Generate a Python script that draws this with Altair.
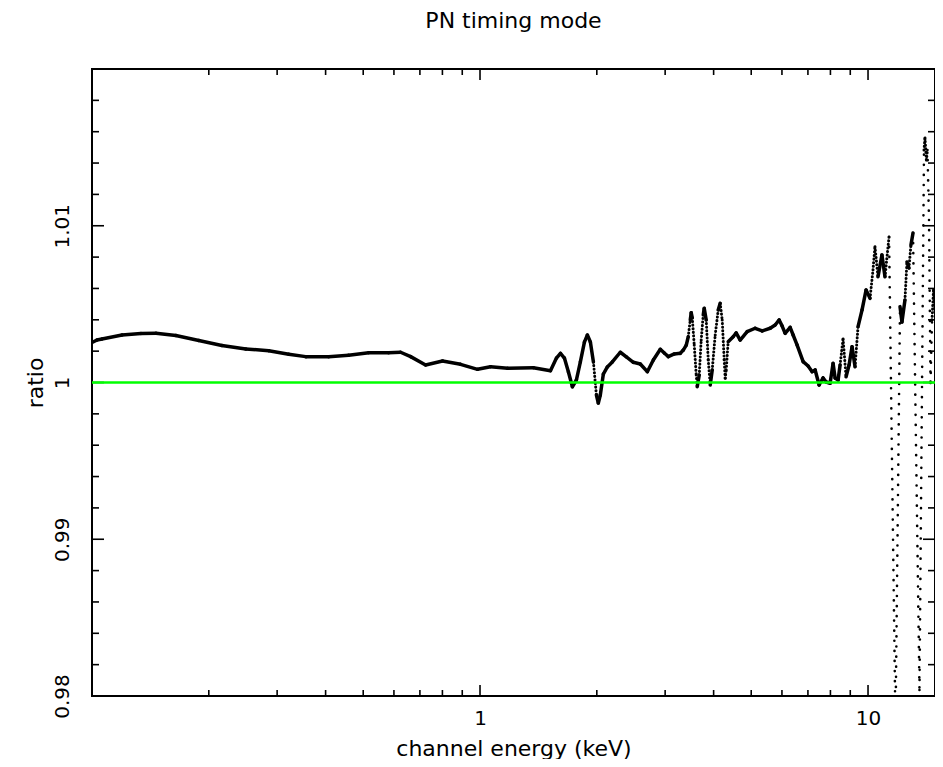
import altair as alt
import numpy as np
import pandas as pd

# ---- data ----
energy_kev = [
    0.1006, 0.1030, 0.1061, 0.1195, 0.1337, 0.1462, 0.1645, 0.1885, 0.2161, 0.2490,
    0.2855, 0.3214, 0.3554, 0.4074, 0.4586, 0.5164, 0.5813, 0.6241, 0.6626, 0.7239,
    0.8006, 0.8909, 0.9853, 1.0642, 1.1774, 1.373, 1.519, 1.574, 1.612, 1.650,
    1.690, 1.730, 1.772, 1.814, 1.858, 1.891, 1.925, 1.960, 1.995, 2.018,
    2.042, 2.079, 2.129, 2.193, 2.299, 2.383, 2.484, 2.589, 2.699, 2.797,
    2.915, 2.985, 3.057, 3.168, 3.282, 3.341, 3.401, 3.441, 3.482, 3.502,
    3.524, 3.565, 3.608, 3.629, 3.673, 3.716, 3.761, 3.783, 3.828, 3.874,
    3.920, 3.967, 4.038, 4.111, 4.159, 4.209, 4.259, 4.284, 4.310, 4.361,
    4.492, 4.573, 4.683, 4.881, 5.118, 5.336, 5.594, 5.763, 5.902, 6.007,
    6.115, 6.299, 6.412, 6.566, 6.804, 7.009, 7.177, 7.306, 7.481, 7.660,
    7.798, 7.985, 8.128, 8.225, 8.373, 8.472, 8.623, 8.778, 8.936, 9.096,
    9.259, 9.425, 9.652, 9.884, 10.12, 10.30, 10.42, 10.61, 10.86, 11.06,
    11.33, 11.77, 12.09, 12.23, 12.45, 12.60, 12.75, 12.90, 13.06, 13.57,
    13.94, 14.02, 14.14, 14.23, 14.36, 14.49, 14.62, 14.75, 14.88,
]
ratio = [
    1.00258, 1.00271, 1.00278, 1.00303, 1.00313, 1.00314, 1.00300, 1.00268, 1.00236, 1.00214,
    1.00203, 1.00180, 1.00165, 1.00165, 1.00174, 1.00190, 1.00190, 1.00193, 1.00165, 1.00112,
    1.00137, 1.00116, 1.00084, 1.00101, 1.00091, 1.00094, 1.00075, 1.00156, 1.00186, 1.00156,
    1.00067, 0.99973, 1.00016, 1.00131, 1.00258, 1.00303, 1.00258, 1.00131, 0.99920, 0.99869,
    0.99920, 1.00054, 1.00099, 1.00131, 1.00193, 1.00163, 1.00129, 1.00118, 1.00069, 1.00144,
    1.00212, 1.00188, 1.00165, 1.00182, 1.00186, 1.00207, 1.00239, 1.00292, 1.00399, 1.00445,
    1.00412, 1.00239, 1.00048, 0.99973, 1.00048, 1.00271, 1.00431, 1.00473, 1.00399, 1.00144,
    0.99984, 1.00080, 1.00303, 1.00463, 1.00505, 1.00399, 1.00144, 1.00027, 1.00080, 1.00260,
    1.00292, 1.00316, 1.00271, 1.00324, 1.00346, 1.00329, 1.00346, 1.00367, 1.00399, 1.00360,
    1.00314, 1.00352, 1.00303, 1.00239, 1.00133, 1.00105, 1.00069, 1.00080, 0.99984, 1.00029,
    1.00003, 0.99995, 1.00122, 1.00029, 1.00016, 1.00112, 1.00278, 1.00037, 1.00112, 1.00228,
    1.00101, 1.00356, 1.00463, 1.00590, 1.00537, 1.00718, 1.00866, 1.00675, 1.00813, 1.00675,
    1.00930, 0.97800, 1.00484, 1.00386, 1.00526, 1.00769, 1.00730, 1.00877, 1.00954, 0.98038,
    1.01483, 1.01560, 1.01419, 1.01483, 1.01037, 0.99997, 1.00399, 1.00590, 1.00443,
]
x_major_ticks = [1, 10]
x_minor_ticks = [0.2, 0.3, 0.4, 0.5, 0.6, 0.7, 0.8, 0.9, 2, 3, 4, 5, 6, 7, 8, 9]
y_major_ticks = [0.98, 0.99, 1.00, 1.01, 1.02]
y_minor_ticks = [0.982, 0.984, 0.986, 0.988, 0.992, 0.994, 0.996, 0.998,
                 1.002, 1.004, 1.006, 1.008, 1.012, 1.014, 1.016, 1.018]
y_label_values = [0.98, 0.99, 1.00, 1.01]
x_label_values = [1, 10]
reference_level = [1.0]

# ---- layout / style ----
W, H = 843, 627
FONT = "DejaVu Sans"
xsc = alt.Scale(type="log", domain=[0.1, 14.88], nice=False)
ysc = alt.Scale(domain=[0.98, 1.02], nice=False, zero=False)

# segments between successive channels; steep ones look dotted in the original
e = np.array(energy_kev)
r = np.array(ratio)
slope = np.abs(np.diff(r) / np.diff(np.log10(e)))
style = np.where(slope > 1.0, "sparse", np.where(slope > 0.2, "dense", "solid"))
seg = pd.DataFrame({"e1": e[:-1], "e2": e[1:], "r1": r[:-1], "r2": r[1:], "style": style})

x_axis = alt.Axis(values=x_label_values, format="~g", title="channel energy (keV)",
                  ticks=False, tickSize=0, domain=False, grid=False,
                  labelFont=FONT, labelFontSize=20, labelColor="black",
                  labelBaseline="middle", labelPadding=22,
                  titleFont=FONT, titleFontSize=22, titleFontWeight="normal", titleColor="black",
                  titleBaseline="middle", titleX=W / 2, titleY=52, titleAnchor="middle")
y_axis = alt.Axis(values=y_label_values, format="~g", title="ratio",
                  ticks=False, tickSize=0, domain=False, grid=False,
                  labelFont=FONT, labelFontSize=20, labelColor="black",
                  labelAngle=-90, labelAlign="center", labelBaseline="middle", labelPadding=30,
                  titleFont=FONT, titleFontSize=22, titleFontWeight="normal", titleColor="black",
                  titleAngle=-90, titleAlign="center", titleBaseline="middle",
                  titleX=-57, titleY=H / 2)

def seg_layer(name, extra):
    return alt.Chart(seg).transform_filter(alt.datum.style == name).mark_rule(
        color="black", strokeCap="round", clip=True, **extra
    ).encode(
        x=alt.X("e1:Q", scale=xsc, axis=x_axis),
        x2="e2:Q",
        y=alt.Y("r1:Q", scale=ysc, axis=y_axis),
        y2="r2:Q",
    )

solid = seg_layer("solid", {"strokeWidth": 3.5})
dense = seg_layer("dense", {"strokeWidth": 3, "strokeDash": [0.1, 3.5]})
sparse = seg_layer("sparse", {"strokeWidth": 2.6, "strokeDash": [0.1, 10]})

green = alt.Chart(pd.DataFrame({"v": reference_level})).mark_rule(
    color="#00ff00", strokeWidth=2.5
).encode(y=alt.Y("v:Q", scale=ysc, axis=y_axis), x=alt.value(0), x2=alt.value(W))

def xticks(vals, length):
    d = pd.DataFrame({"v": vals})
    base = alt.Chart(d).mark_rule(color="black", strokeWidth=1.6)
    bot = base.encode(x=alt.X("v:Q", scale=xsc, axis=x_axis), y=alt.value(H), y2=alt.value(H - length))
    top = base.encode(x=alt.X("v:Q", scale=xsc, axis=x_axis), y=alt.value(0), y2=alt.value(length))
    return [bot, top]

def yticks(vals, length):
    d = pd.DataFrame({"v": vals})
    base = alt.Chart(d).mark_rule(color="black", strokeWidth=1.6)
    left = base.encode(y=alt.Y("v:Q", scale=ysc, axis=y_axis), x=alt.value(0), x2=alt.value(length))
    right = base.encode(y=alt.Y("v:Q", scale=ysc, axis=y_axis), x=alt.value(W), x2=alt.value(W - length))
    return [left, right]

tick_layers = (xticks(x_minor_ticks, 6) + xticks(x_major_ticks, 11)
               + yticks(y_minor_ticks, 7) + yticks(y_major_ticks, 12))

chart = alt.layer(solid, dense, sparse, *tick_layers, green).properties(
    width=W, height=H,
    title=alt.TitleParams("PN timing mode", font=FONT, fontSize=22, fontWeight="normal",
                          color="black", anchor="middle", baseline="alphabetic", offset=18),
    autosize=alt.AutoSizeParams(type="none"),
    padding={"left": 84, "top": 61, "right": 0, "bottom": 63},
).configure(background="white").configure_view(stroke="black", strokeWidth=2)

chart.save("out.html", embed_options={"renderer": "svg", "actions": False})
